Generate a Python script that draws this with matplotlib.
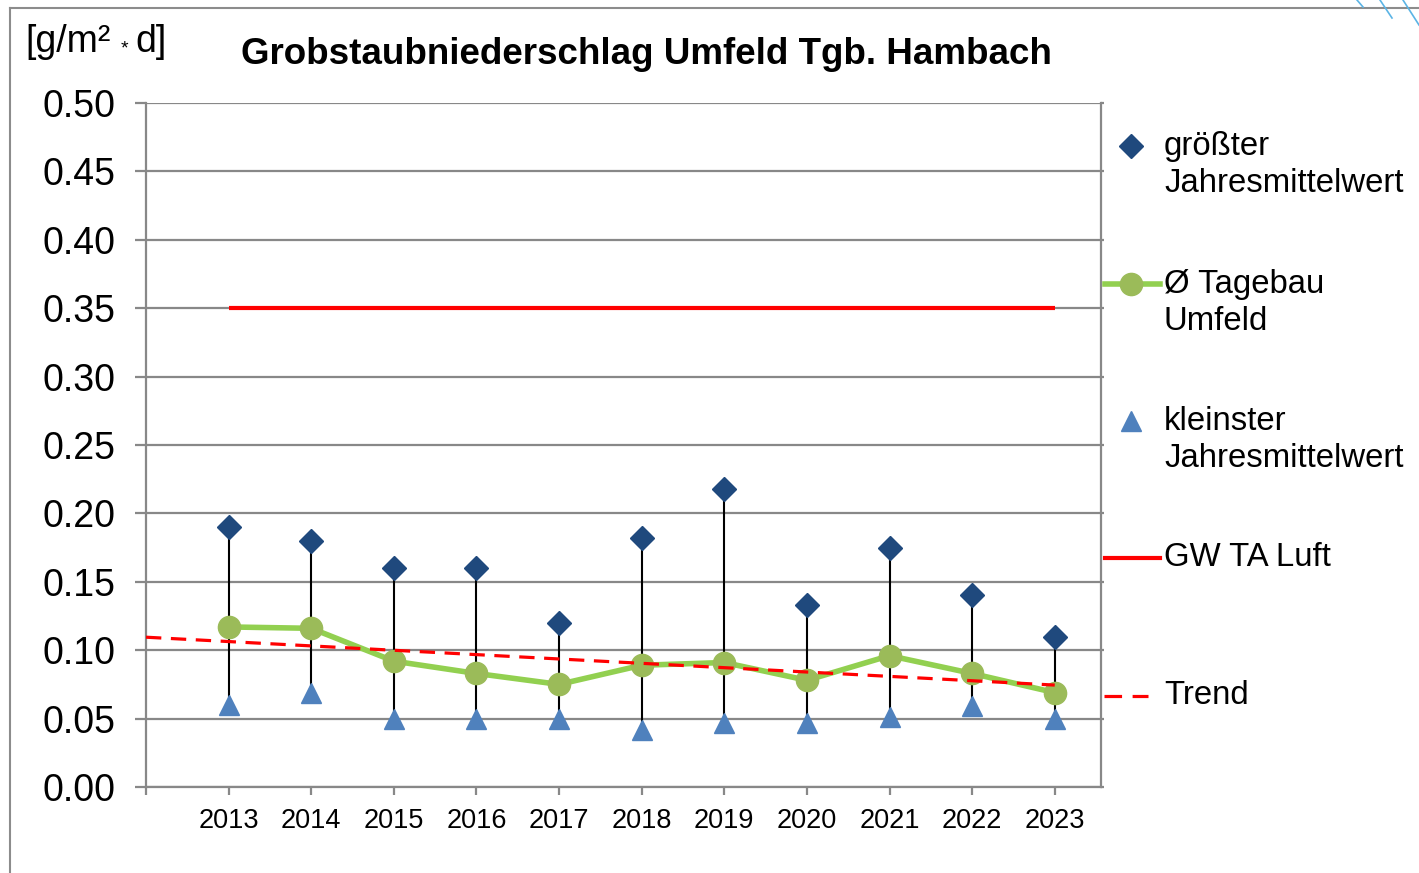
import numpy as np
import matplotlib
matplotlib.use("Agg")
import matplotlib.pyplot as plt
from matplotlib.lines import Line2D

plt.rcParams['font.family'] = ['Liberation Sans', 'DejaVu Sans']

# Data
years = [2013, 2014, 2015, 2016, 2017, 2018, 2019, 2020, 2021, 2022, 2023]
max_vals = [0.190, 0.180, 0.160, 0.160, 0.120, 0.182, 0.218, 0.133, 0.175, 0.140, 0.110]
mean_vals = [0.117, 0.116, 0.092, 0.083, 0.075, 0.089, 0.091, 0.078, 0.096, 0.083, 0.069]
min_vals = [0.060, 0.069, 0.050, 0.050, 0.050, 0.042, 0.047, 0.047, 0.051, 0.059, 0.050]
gw_limit = 0.35
trend_x = [2012, 2023]
trend_y = [0.1095, 0.0745]

labels = ["größter\nJahresmittelwert", "Ø Tagebau\nUmfeld", "kleinster\nJahresmittelwert",
          "GW TA Luft", "Trend"]

c_max = '#1F497D'
c_min = '#4F81BD'
c_line = '#92D050'
c_dot = '#9BBB59'
c_red = '#FF0000'
c_grid = '#888888'

W, H = 1419, 873
fig = plt.figure(figsize=(W / 100, H / 100), dpi=100)

def px(x, y):
    return (x / W, 1 - y / H)

ax = fig.add_axes([146 / W, 1 - 787 / H, (1101 - 146) / W, (787 - 103) / H])

# hi-lo lines
ax.vlines(years, min_vals, max_vals, color='black', lw=1.5, zorder=2)
# limit
ax.plot([years[0], years[-1]], [gw_limit, gw_limit], color=c_red, lw=3, zorder=3,
        solid_capstyle='butt')
# mean line
ax.plot(years, mean_vals, color=c_line, lw=4, marker='o', ms=16,
        markerfacecolor=c_dot, markeredgecolor=c_dot, zorder=4)
# trend
ax.plot(trend_x, trend_y, color=c_red, lw=2.3, dashes=(4.8, 3), zorder=5)
# markers
ax.plot(years, max_vals, ls='none', marker='D', ms=12, color=c_max, zorder=6)
ax.plot(years, min_vals, ls='none', marker='^', ms=15, color=c_min, zorder=6)

ax.set_xlim(2012, 2023.56)
ax.set_ylim(0, 0.5)
ax.set_yticks(np.arange(0, 0.51, 0.05))
ax.set_yticklabels([f"{v:.2f}" for v in np.arange(0, 0.51, 0.05)], fontsize=27)
ax.set_xticks([2012] + years)
ax.set_xticklabels([''] + [str(y) for y in years], fontsize=19.5)
ax.grid(axis='y', color=c_grid, lw=1.6, zorder=0)
ax.set_axisbelow(True)
for s in ['left', 'bottom', 'right']:
    ax.spines[s].set_color(c_grid)
    ax.spines[s].set_linewidth(1.6)
ax.spines['top'].set_visible(False)
ax.tick_params(axis='y', length=8, width=1.6, color=c_grid, pad=14, right=True)
ax.tick_params(axis='x', length=6, width=1.6, color=c_grid, pad=9)
for t in ax.yaxis.get_major_ticks():
    t.tick2line.set_markersize(2.5)

# titles
fig.text(*px(646, 55), "Grobstaubniederschlag Umfeld Tgb. Hambach", fontsize=26.5,
         fontweight='bold', ha='center', va='center')
fig.text(*px(25, 42), "[g/m²", fontsize=27, ha='left', va='center')
fig.text(*px(124, 49), "*", fontsize=14, ha='center', va='center')
fig.text(*px(135, 42), "d]", fontsize=27, ha='left', va='center')

# legend (drawn by hand)
leg_y = [146, 284, 421, 558, 696]
fig.add_artist(Line2D([1131 / W], [px(0, leg_y[0])[1]], marker='D', ms=12, color=c_max, ls='none'))
fig.add_artist(Line2D([1105 / W, 1160 / W], [px(0, leg_y[1])[1]] * 2, color=c_line, lw=4))
fig.add_artist(Line2D([1131 / W], [px(0, leg_y[1])[1]], marker='o', ms=16, color=c_dot, ls='none'))
fig.add_artist(Line2D([1131 / W], [px(0, leg_y[2])[1]], marker='^', ms=15, color=c_min, ls='none'))
fig.add_artist(Line2D([1105 / W, 1160 / W], [px(0, leg_y[3])[1]] * 2, color=c_red, lw=3))
fig.add_artist(Line2D([1104 / W, 1148 / W], [px(0, leg_y[4])[1]] * 2, color=c_red, lw=2.3,
                      dashes=(5.5, 3.3)))
for y, lab in zip(leg_y, labels):
    yc = y + 19 if '\n' in lab else y
    fig.text(*px(1164, yc), lab, fontsize=23.7, ha='left', va='center', linespacing=1.23)

# outer frame and decoration
fig.add_artist(Line2D([10 / W, 1], [1 - 8 / H] * 2, color='#8c8c8c', lw=1.5))
fig.add_artist(Line2D([10 / W, 10 / W], [1 - 8 / H, 0], color='#8c8c8c', lw=1.5))
for x0, y0, x1, y1 in [(1357, 0, 1363, 7), (1380, 0, 1392, 18), (1403, 0, 1419, 25)]:
    fig.add_artist(Line2D([x0 / W, x1 / W], [1 - y0 / H, 1 - y1 / H], color='#5BB4E5', lw=1.2))

fig.savefig("out.png", dpi=100)
